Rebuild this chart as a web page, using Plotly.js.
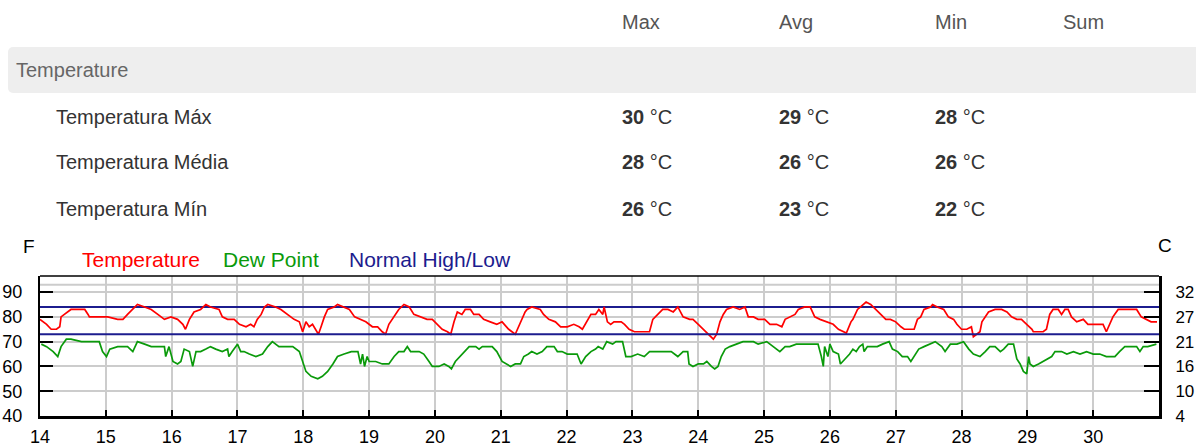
<!DOCTYPE html>
<html><head><meta charset="utf-8">
<script src="https://cdn.plot.ly/plotly-3.0.1.min.js"></script>
<style>
body{margin:0;width:1196px;height:448px;overflow:hidden;background:#fff;font-family:"Liberation Sans",Arial,sans-serif;}
.t{position:absolute;font-size:20px;line-height:22px;white-space:nowrap;color:#333;}
.h{color:#555;}
.bar{position:absolute;left:8px;top:47px;width:1188px;height:46px;background:#eeeeee;border-radius:5px 0 0 5px;}
b{font-weight:bold;}
</style></head><body>
<div class="bar"></div>
<div id="table"></div>
<div id="chart" style="position:absolute;left:0;top:230px;width:1196px;height:218px;"></div>
<script>
// ---- table data ----
const headers = ['Max', 'Avg', 'Min', 'Sum'];
const groupLabel = 'Temperature';
const rowLabels = ['Temperatura Máx', 'Temperatura Média', 'Temperatura Mín'];
const maxVals = [30, 28, 26];
const avgVals = [29, 26, 23];
const minVals = [28, 26, 22];
const unit = '°C';

// ---- chart data ----
const dayTicks = [14,15,16,17,18,19,20,21,22,23,24,25,26,27,28,29,30];
const fTicks = [40,50,60,70,80,90];
const cTickLabels = ['4','10','16','21','27','32'];
const normalHigh = 84;
const normalLow = 73;

const tempDays = [14.0,14.1,14.17,14.25,14.3,14.32,14.37,14.42,14.47,14.58,14.68,14.73,14.75,14.83,14.93,15.03,15.18,15.26,15.33,15.41,15.48,15.59,15.69,15.79,15.89,15.99,16.09,16.17,16.21,16.27,16.34,16.44,16.52,16.59,16.72,16.77,16.85,16.95,17.03,17.13,17.2,17.25,17.3,17.36,17.41,17.46,17.58,17.66,17.76,17.86,17.94,17.99,18.04,18.09,18.14,18.19,18.23,18.27,18.32,18.37,18.47,18.52,18.62,18.7,18.78,18.88,18.95,19.05,19.13,19.2,19.25,19.3,19.35,19.4,19.45,19.53,19.61,19.68,19.78,19.88,19.96,20.04,20.11,20.19,20.24,20.29,20.34,20.41,20.46,20.54,20.59,20.67,20.74,20.84,20.94,21.02,21.12,21.22,21.3,21.37,21.4,21.47,21.6,21.65,21.73,21.83,21.91,22.01,22.11,22.19,22.24,22.32,22.37,22.44,22.49,22.55,22.57,22.62,22.67,22.72,22.83,22.88,22.95,23.03,23.16,23.26,23.31,23.39,23.46,23.54,23.62,23.69,23.77,23.87,23.92,24.0,24.08,24.15,24.23,24.28,24.33,24.38,24.43,24.53,24.63,24.71,24.76,24.84,24.91,25.01,25.09,25.19,25.27,25.32,25.39,25.47,25.52,25.62,25.7,25.77,25.85,25.95,26.05,26.13,26.2,26.25,26.32,26.35,26.42,26.5,26.55,26.62,26.7,26.77,26.85,26.92,27.0,27.08,27.13,27.2,27.28,27.33,27.38,27.43,27.53,27.56,27.63,27.73,27.8,27.88,27.93,28.0,28.08,28.15,28.18,28.23,28.28,28.31,28.36,28.41,28.51,28.61,28.69,28.76,28.84,28.91,28.99,29.07,29.09,29.24,29.29,29.34,29.39,29.47,29.52,29.57,29.62,29.67,29.75,29.85,29.92,30.05,30.15,30.2,30.25,30.3,30.38,30.45,30.56,30.66,30.73,30.81,30.88,30.97];
const tempF = [79,77,75,75,76,80,81,82,83,83,83,81,80,80,80,80,79,79,81,83,85,84,83,81,79,80,79,77,75,79,82,83,85,84,83,80,79,79,77,76,77,76,79,81,84,85,84,83,81,79,78,74,78,76,77,75,73,76,80,83,84,85,84,83,80,79,78,76,76,74,73,77,79,81,83,85,84,81,80,79,79,77,75,74,73,78,82,81,83,83,81,81,79,78,77,78,75,73,78,82,83,84,83,81,79,78,76,76,77,76,75,79,81,81,83,81,84,78,77,78,78,77,75,74,74,74,79,81,83,83,82,84,80,79,79,77,75,73,71,73,78,81,83,84,83,84,80,80,79,79,77,77,76,79,80,81,83,84,84,80,79,78,77,75,74,73.5,78,79,83,85,86,85,83,81,79,79,78,76,75,75,75,79,80,83,84,85,84,83,80,79,77,75,75,76,72,73,74,78,80,82,83,83,82,80,79,79,77,75,74,74,75,81,83,83,81,83,83,80,78,79,77,77,77,74,77,80,83,83,83,83,80,79,78,78];

const dewDays = [14.02,14.1,14.2,14.27,14.32,14.4,14.47,14.63,14.78,14.9,14.95,15.01,15.06,15.18,15.28,15.33,15.41,15.48,15.59,15.69,15.79,15.89,15.91,15.96,16.02,16.09,16.14,16.19,16.27,16.32,16.37,16.44,16.52,16.59,16.67,16.77,16.85,16.87,16.92,17.0,17.05,17.1,17.18,17.28,17.38,17.46,17.53,17.63,17.74,17.84,17.94,17.99,18.04,18.12,18.22,18.29,18.37,18.45,18.52,18.62,18.73,18.83,18.87,18.9,18.93,18.97,19.0,19.1,19.2,19.3,19.38,19.45,19.53,19.58,19.63,19.76,19.83,19.91,19.96,20.06,20.14,20.21,20.25,20.31,20.41,20.52,20.62,20.67,20.72,20.87,20.94,21.02,21.15,21.22,21.3,21.35,21.42,21.47,21.55,21.63,21.7,21.76,21.81,21.86,21.93,22.01,22.16,22.22,22.29,22.37,22.44,22.48,22.55,22.61,22.7,22.75,22.85,22.9,22.98,23.08,23.18,23.26,23.39,23.49,23.59,23.69,23.77,23.84,23.86,23.92,24.0,24.08,24.13,24.2,24.25,24.3,24.35,24.41,24.48,24.58,24.68,24.84,24.91,25.04,25.14,25.24,25.32,25.39,25.49,25.62,25.72,25.82,25.87,25.9,25.92,25.97,26.0,26.05,26.13,26.16,26.23,26.3,26.35,26.4,26.45,26.5,26.52,26.57,26.65,26.72,26.8,26.9,26.95,27.03,27.1,27.18,27.23,27.28,27.35,27.43,27.53,27.6,27.7,27.75,27.83,27.93,28.03,28.11,28.18,28.28,28.36,28.43,28.51,28.59,28.64,28.71,28.79,28.81,28.84,28.89,28.94,28.99,29.02,29.04,29.09,29.17,29.24,29.32,29.37,29.42,29.52,29.6,29.7,29.8,29.9,30.0,30.1,30.2,30.33,30.4,30.48,30.61,30.66,30.71,30.76,30.83,30.96];
const dewF = [69,68,66,64,68,71,71,70,70,70,66,64,67,68,68,68,66,70,69,68,68,68,64,68,62,61,62,67,66,60,66,66,67,68,67,66,67,64,66,69,66,66,65,64,65,68,70,68,68,68,66,62,58,56,55,56,58,61,64,65,66,66,61,65,60,64,62,62,61,61,64,66,66,68,66,66,65,62,60,60,61,60,59,62,65,68,68,67,68,68,66,62,60,61,61,64,65,66,65,66,68,68,68,66,66,65,65,61,64,66,67,68,67,70,69,70,70,64,64,65,64,66,66,66,66,64,66,66,61,60,61,61,62,60,59,60,64,67,68,69,70,70,69,70,68,66,68,68,69,69,69,69,64,60,68,64,69,66,65,61,63,65,67,66,68,69,66,68,68,68,69,70,67,66,64,64,62,64,67,68,69,70,68,66,69,69,70,67,65,64,66,68,68,66,67,69,69,67,63,61,58,57,64,61,60,61,62,63,64,66,66,65,66,65,66,65,65,64,64,66,68,68,68,66,68,68,69];

// ---- build table ----
(function(){
  const el = document.getElementById('table');
  let html = '';
  const colX = [622, 779, 935, 1063];
  const rowY = [117, 162, 209];
  headers.forEach((h,i)=>{ html += `<div class="t h" style="left:${colX[i]}px;top:${22-11}px">${h}</div>`; });
  html += `<div class="t" style="left:16px;top:${70-11}px;color:#666">${groupLabel}</div>`;
  rowLabels.forEach((r,i)=>{
    html += `<div class="t" style="left:56px;top:${rowY[i]-11}px">${r}</div>`;
    [maxVals, avgVals, minVals].forEach((arr,j)=>{
      html += `<div class="t" style="left:${colX[j]}px;top:${rowY[i]-11}px"><b>${arr[i]}</b> ${unit}</div>`;
    });
  });
  el.innerHTML = html;
})();

// ---- chart ----
const xEnd = 31;
const traces = [
  {x:[14, xEnd], y:[normalHigh, normalHigh], mode:'lines', line:{color:'#1c1c8e', width:2}, hoverinfo:'skip', yaxis:'y'},
  {x:[14, xEnd], y:[normalLow, normalLow], mode:'lines', line:{color:'#1c1c8e', width:2}, hoverinfo:'skip', yaxis:'y2'},
  {x:tempDays, y:tempF, mode:'lines', line:{color:'#ff0000', width:1.7}, name:'Temperature'},
  {x:dewDays, y:dewF, mode:'lines', line:{color:'#0a9a0a', width:1.7}, name:'Dew Point'}
];
const fnt = {family:'"Liberation Sans", Arial, sans-serif', size:18, color:'#000'};
const yr = [40, 96.5];
const layout = {
  width:1196, height:218,
  margin:{l:40, r:37, t:46, b:32},
  paper_bgcolor:'rgba(0,0,0,0)', plot_bgcolor:'#fff',
  showlegend:false,
  font:fnt,
  xaxis:{range:[14, xEnd], tickvals:dayTicks, ticks:'inside', ticklen:6, tickwidth:2, tickcolor:'#000',
         showgrid:true, gridcolor:'#cccccc', gridwidth:2, showline:true, linecolor:'#000', linewidth:3,
         zeroline:false, tickfont:fnt, ticklabelstandoff:2, fixedrange:true},
  yaxis:{range:yr, tickvals:fTicks, ticks:'inside', ticklen:13, tickwidth:2, tickcolor:'#000',
         showgrid:true, gridcolor:'#cccccc', gridwidth:2, showline:true, linecolor:'#000', linewidth:2,
         zeroline:false, tickfont:fnt, ticklabelstandoff:12, fixedrange:true},
  yaxis2:{range:yr, overlaying:'y', side:'right', tickvals:fTicks, ticktext:cTickLabels, ticks:'inside', ticklen:15,
          tickwidth:2, tickcolor:'#000', showgrid:false, showline:true, linecolor:'#000', linewidth:3,
          zeroline:false, tickfont:{...fnt, size:17}, ticklabelstandoff:10, fixedrange:true},
  shapes:[
    {type:'line', xref:'paper', yref:'paper', x0:0, x1:1, y0:1, y1:1, line:{color:'#000', width:1.5}},
    {type:'line', xref:'paper', yref:'y', x0:0, x1:1, y0:93, y1:93, line:{color:'#cccccc', width:2}, layer:'below'}
  ],
  annotations:[
    {text:'F', xref:'paper', yref:'paper', x:-0.017, y:1.214, yanchor:'middle', showarrow:false, font:{...fnt, size:19}},
    {text:'C', xref:'paper', yref:'paper', x:1.0135, y:1.22, yanchor:'middle', showarrow:false, font:{...fnt, size:19}},
    {text:'Temperature', xref:'paper', yref:'paper', x:(80-40)/1119, xanchor:'left', y:1.121, yanchor:'middle', showarrow:false, font:{...fnt, size:21, color:'#ff0000'}},
    {text:'Dew Point', xref:'paper', yref:'paper', x:(221-40)/1119, xanchor:'left', y:1.121, yanchor:'middle', showarrow:false, font:{...fnt, size:21, color:'#0a9a0a'}},
    {text:'Normal High/Low', xref:'paper', yref:'paper', x:(347-40)/1119, xanchor:'left', y:1.121, yanchor:'middle', showarrow:false, font:{...fnt, size:21, color:'#1c1c8e'}}
  ]
};
Plotly.newPlot('chart', traces, layout, {displayModeBar:false, staticPlot:true});
</script>
</body></html>
